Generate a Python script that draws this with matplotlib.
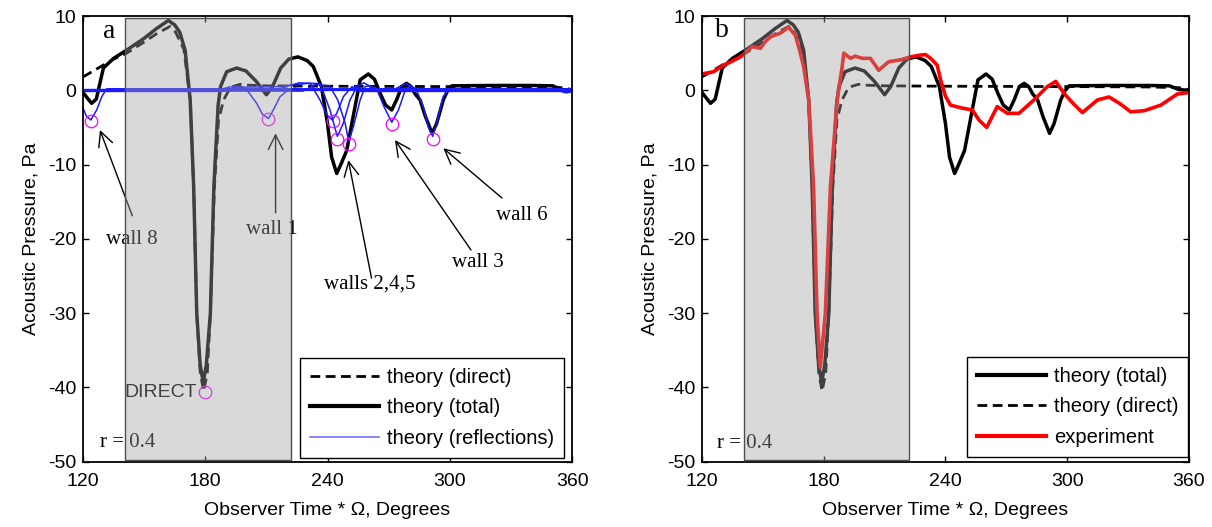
import matplotlib.pyplot as plt
from matplotlib.patches import Rectangle
from matplotlib.lines import Line2D

plt.rcParams['font.family'] = ['Liberation Sans', 'DejaVu Sans']
plt.rcParams['axes.unicode_minus'] = False

# theory (total) - black solid
total_x = [120, 122, 124.2, 126.5, 130, 135, 141.4, 150, 156, 161.9, 165, 167.5, 170.1, 172.6, 174.3, 175.8,
           177.5, 179, 180.5, 182.5, 184.2, 186.3, 187.5, 190.5, 195.4, 200, 205, 210, 213, 217, 221,
           225.5, 230, 233, 237, 240, 242, 244.5, 246.5, 249.4, 251, 256, 260, 263, 265.8, 268.5,
           271.5, 274, 276.4, 278.8, 281, 283, 285.4, 288, 291.3, 293.5, 296.8, 299, 301, 320, 340,
           350.5, 355, 360]
total_y = [-0.3, -1.0, -1.75, -1.2, 3.0, 4.3, 5.4, 7.0, 8.3, 9.4, 8.8, 7.8, 5.4, -1.3, -13, -30,
           -37, -39.3, -37, -30, -13, -2, 0.5, 2.5, 3.0, 2.6, 1.2, -0.6, 0.5, 3.0, 4.2,
           4.5, 4.0, 3.2, 0.5, -4.5, -9, -11.2, -10, -8.1, -5.8, 1.4, 2.2, 1.5, -0.4, -2.0,
           -2.65, -1.2, 0.5, 0.94, 0.5, -0.5, -1.3, -3.5, -5.8, -4.5, -1.3, 0.0, 0.6, 0.65, 0.65,
           0.6, 0.1, 0.0]

# theory (direct) - black dashed
direct_x = [120, 125, 130, 135, 141.4, 150, 156, 162.7, 165.5, 169.5, 172.6, 174.3, 175.8, 177.5,
            179.2, 181, 182.5, 184.5, 186.5, 189, 192.3, 197, 200, 210, 240, 300, 340, 355, 360]
direct_y = [1.8, 2.6, 3.4, 4.2, 5.0, 6.5, 7.6, 8.6, 7.8, 5.5, -1.3, -13, -30, -38,
            -40.5, -38, -30, -13, -4, -1.3, 0.4, 0.8, 0.7, 0.6, 0.55, 0.5, 0.45, 0.35, 0.1]

# experiment - red
exp_x = [120, 125.7, 130.7, 134, 138.9, 142, 144.7, 148.8, 151, 153.7, 158.6, 162.7, 166, 168,
         170.1, 172.6, 175, 176.7, 178.3, 180.8, 183.3, 186.6, 189.1, 189.9, 193.2, 195.6, 198.9,
         203, 207.1, 212, 217.8, 222.8, 227.8, 230.2, 232.7, 235.9, 237.6, 240, 242.5, 248.3,
         253.2, 256.5, 260.3, 265.5, 270.5, 276.2, 283.6, 290.2, 294.3, 298.4, 303, 307.5, 314.9,
         320.6, 326, 331.3, 337.9, 346.1, 354.3, 360]
exp_y = [2.2, 2.5, 3.4, 3.8, 4.5, 5.2, 5.9, 5.65, 6.5, 7.2, 7.7, 8.5, 7.4, 5.5,
         3.2, -1.3, -13, -30, -37.3, -30, -13, -1.3, 3.2, 5.0, 4.3, 4.6, 4.3,
         4.3, 2.7, 3.85, 4.1, 4.5, 4.75, 4.8, 4.3, 3.4, 1.4, -0.8, -2.0, -2.4,
         -2.65, -4.0, -5.0, -2.2, -3.1, -3.1, -1.3, 0.5, 1.2, -0.4, -1.8, -3.0, -1.3,
         -0.9, -1.8, -2.9, -2.75, -2.0, -0.5, -0.3]

# theory (reflections) - one thin blue line per wall
wall8_x = [120, 121.5, 123.8, 126.7, 129.2, 131.6, 360]
wall8_y = [-2.4, -3.4, -4.0, -2.65, -0.85, 0.2, 0.2]
wall1_x = [120, 186, 192, 198, 200.3, 205.2, 208, 211, 213.4, 216.7, 220.5, 224, 228, 360]
wall1_y = [0, 0, 0.45, 0.5, 0.1, -1.75, -3.2, -3.8, -2.65, -0.85, 0, 0.3, 0, 0]
wall2_x = [120, 188, 195, 215, 225, 231.4, 236.3, 239.6, 242.3, 244.5, 247.8, 252, 256, 360]
wall2_y = [-0.15, -0.15, 0.4, 0.5, 0.8, 0.95, -1.3, -3.3, -4.0, -3.1, -0.85, 0.5, -0.15, -0.15]
wall4_x = [120, 215, 226, 236.3, 241.2, 244.8, 247.8, 251, 254.5, 258, 360]
wall4_y = [0.1, 0.1, 1.0, 0.9, -2.65, -6.2, -4.4, -1.3, 0.5, 0.1, 0.1]
wall5_x = [120, 228, 234, 241, 245, 248.6, 250.4, 252.7, 256, 258.5, 261, 265, 360]
wall5_y = [-0.1, -0.1, 0.8, 0.6, -1.3, -4.4, -6.9, -4.9, -1.3, 0.5, 0.6, -0.1, -0.1]
wall3_x = [120, 250, 257.8, 264.4, 267.7, 271.5, 274.8, 278.1, 280.5, 285, 360]
wall3_y = [0, 0, 1.0, 0, -2.2, -4.3, -2.65, 0, 0.6, 0, 0]
wall6_x = [120, 272, 278.8, 283.7, 287, 289.5, 291.6, 293.6, 296.8, 300, 352, 357, 360]
wall6_y = [0.05, 0.05, 0.9, 0, -2.2, -5.0, -6.2, -4.4, -0.8, 0.05, 0.05, -0.35, -0.2]

# peak markers (magenta circles)
peak_x = [123.8, 211, 242.5, 244.8, 250.5, 271.5, 291.6, 180]
peak_y = [-4.1, -3.9, -4.1, -6.5, -7.2, -4.5, -6.5, -40.6]

# annotations: label, text position, arrow tail, arrow tip
ann_labels = ['wall 8', 'wall 1', 'walls 2,4,5', 'wall 3', 'wall 6']
ann_text_x = [144, 212.7, 260.9, 313.8, 335.2]
ann_text_y = [-20.1, -18.8, -26.1, -23.2, -16.8]
ann_tail_x = [144.2, 214.5, 261.6, 310.4, 325.6]
ann_tail_y = [-16.9, -16.5, -25.3, -21.5, -14.5]
ann_tip_x = [128.3, 214.5, 250.2, 273.1, 296.8]
ann_tip_y = [-5.35, -5.8, -9.4, -6.7, -7.8]

# shaded region
shade_x = [140.8, 221.9]
shade_y = [-49.8, 9.8]

fig = plt.figure(figsize=(12.12, 5.27), dpi=100)
ax1 = fig.add_axes([0.0685, 0.1239, 0.4035, 0.8457])
ax2 = fig.add_axes([0.5792, 0.1239, 0.4018, 0.8457])

serif = ['Liberation Serif', 'DejaVu Serif']
dash = (0, (3.5, 2))

# ---- panel a ----
ax1.plot(direct_x, direct_y, color='black', lw=2.0, ls=dash, zorder=2)
ax1.plot(total_x, total_y, color='black', lw=2.5, zorder=2)
walls = [(wall8_x, wall8_y), (wall1_x, wall1_y), (wall2_x, wall2_y), (wall4_x, wall4_y),
         (wall5_x, wall5_y), (wall3_x, wall3_y), (wall6_x, wall6_y)]
for wx, wy in walls:
    ax1.plot(wx, wy, color='#1a1aff', lw=1.1, zorder=2.2)
ax1.plot(peak_x, peak_y, 'o', mfc='none', mec='#ff00ff', ms=9, mew=0.9, zorder=2.4)

for lab, tx, ty, ax_, ay_, px, py in zip(ann_labels, ann_text_x, ann_text_y, ann_tail_x,
                                        ann_tail_y, ann_tip_x, ann_tip_y):
    ax1.annotate('', xy=(px, py), xytext=(ax_, ay_),
                 arrowprops=dict(arrowstyle='->,head_length=0.7,head_width=0.35',
                                 color='black', lw=1.0, shrinkA=0, shrinkB=0,
                                 mutation_scale=15), zorder=2.5)
    ax1.text(tx, ty, lab, family=serif, fontsize=15, ha='center', va='center', zorder=2.5)

ax1.text(175.8, -40.7, 'DIRECT', fontsize=14, ha='right', va='center', zorder=2.5)
ax1.text(129.8, 7.9, 'a', family=serif, fontsize=20, ha='left', va='center', zorder=2.5)
ax1.text(128.1, -47.4, 'r = 0.4', family=serif, fontsize=15, ha='left', va='center', zorder=2.5)

h1 = [Line2D([], [], color='black', lw=2.0, ls=dash),
      Line2D([], [], color='black', lw=3.0),
      Line2D([], [], color='#6f6fff', lw=1.2)]
leg1 = ax1.legend(h1, ['theory (direct)', 'theory (total)', 'theory (reflections)'],
                  loc='lower right', bbox_to_anchor=(0.983, 0.008), borderaxespad=0,
                  fancybox=False, edgecolor='black', framealpha=1, fontsize=14.5,
                  handlelength=3.4, handletextpad=0.4, labelspacing=0.58, borderpad=0.5)

# ---- panel b ----
ax2.plot(total_x, total_y, color='black', lw=2.5, zorder=2)
ax2.plot(direct_x, direct_y, color='black', lw=2.0, ls=dash, zorder=2)
ax2.plot(exp_x, exp_y, color='#ff0000', lw=2.6, zorder=2.2)
ax2.text(126.5, 8.0, 'b', family=serif, fontsize=20, ha='left', va='center', zorder=2.5)
ax2.text(127.5, -47.6, 'r = 0.4', family=serif, fontsize=15, ha='left', va='center', zorder=2.5)

h2 = [Line2D([], [], color='black', lw=3.0),
      Line2D([], [], color='black', lw=2.0, ls=dash),
      Line2D([], [], color='#ff0000', lw=3.0)]
leg2 = ax2.legend(h2, ['theory (total)', 'theory (direct)', 'experiment'],
                  loc='lower right', bbox_to_anchor=(0.999, 0.01), borderaxespad=0,
                  fancybox=False, edgecolor='black', framealpha=1, fontsize=14.5,
                  handlelength=3.4, handletextpad=0.4, labelspacing=0.58, borderpad=0.5)

for ax, leg in ((ax1, leg1), (ax2, leg2)):
    ax.add_patch(Rectangle((shade_x[0], shade_y[0]), shade_x[1] - shade_x[0], shade_y[1] - shade_y[0],
                           facecolor=(0.63, 0.63, 0.63), alpha=0.4, edgecolor='none', zorder=3))
    ax.add_patch(Rectangle((shade_x[0], shade_y[0]), shade_x[1] - shade_x[0], shade_y[1] - shade_y[0],
                           facecolor='none', edgecolor='#505050', lw=1.0, zorder=3))
    leg.set_zorder(5)
    leg.get_frame().set_linewidth(1.0)
    ax.set_xlim(120, 360)
    ax.set_ylim(-50, 10)
    ax.set_xticks([120, 180, 240, 300, 360])
    ax.set_yticks([-50, -40, -30, -20, -10, 0, 10])
    ax.tick_params(direction='in', length=4, width=1, top=True, right=True, labelsize=14)
    ax.tick_params(axis='x', pad=8)
    ax.tick_params(axis='y', pad=5)
    for s in ax.spines.values():
        s.set_linewidth(1.3)
    ax.set_xlabel('Observer Time * Ω, Degrees', fontsize=14, labelpad=9)
    ax.set_ylabel('Acoustic Pressure, Pa', fontsize=14, labelpad=6)

fig.savefig('out.png', dpi=100)
